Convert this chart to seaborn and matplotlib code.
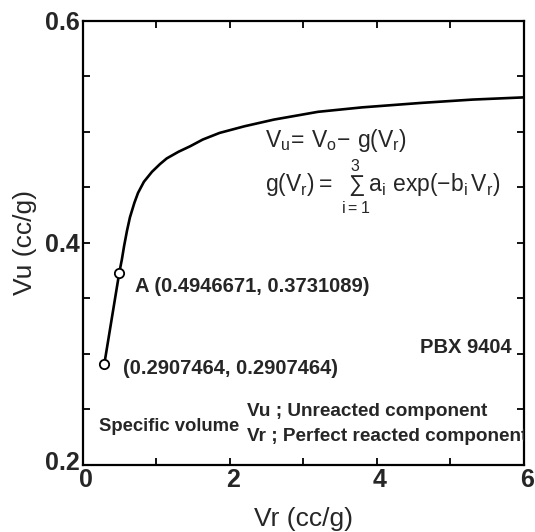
import matplotlib
matplotlib.use("Agg")
import matplotlib.pyplot as plt
import matplotlib.transforms as mtransforms
import seaborn as sns
import pandas as pd
from matplotlib.ticker import MultipleLocator

# Data
vr = [0.2907, 0.4947, 0.53, 0.56, 0.60, 0.64, 0.70, 0.75, 0.83, 0.94, 1.05, 1.14, 1.30,
      1.46, 1.63, 1.86, 2.2, 2.6, 3.2, 3.8, 4.6, 5.3, 6.0]
vu = [0.2907, 0.3731, 0.385, 0.397, 0.411, 0.423, 0.436, 0.445, 0.455, 0.464, 0.471, 0.476, 0.482,
      0.487, 0.493, 0.499, 0.505, 0.511, 0.518, 0.522, 0.526, 0.529, 0.531]
marker_vr = [0.2907, 0.4947]
marker_vu = [0.2907, 0.3731]
xticks = [0, 2, 4, 6]
yticks = [0.2, 0.4, 0.6]

sns.set_theme(style="white")
plt.rcParams["font.family"] = ["Liberation Sans", "DejaVu Sans"]
plt.rcParams["mathtext.fontset"] = "custom"
plt.rcParams["mathtext.rm"] = "Liberation Sans"
plt.rcParams["mathtext.it"] = "Liberation Sans"
plt.rcParams["mathtext.bf"] = "Liberation Sans:bold"

df = pd.DataFrame({"Vr": vr, "Vu": vu})
mk = pd.DataFrame({"Vr": marker_vr, "Vu": marker_vu})

fig = plt.figure(figsize=(5.35, 5.32), dpi=100)
ax = fig.add_axes([0.155, 0.126, 0.824, 0.835])

sns.lineplot(data=df, x="Vr", y="Vu", ax=ax, color="black", linewidth=1.9, sort=False)
sns.scatterplot(data=mk, x="Vr", y="Vu", ax=ax, s=45, facecolor="white",
                edgecolor="black", linewidth=1.3, zorder=5)

ax.set_xlim(0, 6)
ax.set_ylim(0.2, 0.6)
ax.set_xticks(xticks)
ax.set_xticklabels([str(t) for t in xticks])
ax.set_yticks(yticks)
ax.set_yticklabels([f"{t:.1f}" for t in yticks])
ax.xaxis.set_minor_locator(MultipleLocator(1))
ax.yaxis.set_minor_locator(MultipleLocator(0.05))
ax.tick_params(which="both", direction="in", top=True, right=True, bottom=True, left=True,
               length=5, width=1.3, color="black")
ax.tick_params(which="major", labelsize=18, pad=2)
for lab in ax.get_xticklabels() + ax.get_yticklabels():
    lab.set_fontweight("bold")
# nudge labels as in the reference
shift_x = mtransforms.ScaledTranslation(3 / 100, 0, fig.dpi_scale_trans)
for lab in ax.get_xticklabels():
    lab.set_transform(lab.get_transform() + shift_x)
shift_up = mtransforms.ScaledTranslation(0, 4 / 100, fig.dpi_scale_trans)
ylabs = ax.get_yticklabels()
ylabs[0].set_transform(ylabs[0].get_transform() + shift_up)
for s in ax.spines.values():
    s.set_linewidth(1.6)
    s.set_color("black")

ax.set_xlabel("Vr (cc/g)", fontsize=19, labelpad=11)
ax.set_ylabel("Vu (cc/g)", fontsize=19, labelpad=6)

ax.text(2.48, 0.492, r"$\mathregular{V_u\!=\,V_o\!-\,g(V_r)}$", fontsize=16.5, va="center")
ax.text(2.48, 0.450, r"$\mathregular{g(V_r)=\ \sum_{i=1}^{3} a_i\ exp(-b_i\,V_r)}$", fontsize=16.5, va="center")
ax.text(0.71, 0.361, "A (0.4946671, 0.3731089)", fontsize=14.5, fontweight="bold", va="center")
ax.text(0.55, 0.287, "(0.2907464, 0.2907464)", fontsize=14.5, fontweight="bold", va="center")
ax.text(5.83, 0.306, "PBX 9404", fontsize=14.5, fontweight="bold", va="center", ha="right")
ax.text(0.22, 0.235, "Specific volume", fontsize=13.3, fontweight="bold", va="center")
ax.text(2.23, 0.248, "Vu ; Unreacted component", fontsize=13.7, fontweight="bold", va="center")
ax.text(2.23, 0.226, "Vr ; Perfect reacted component", fontsize=13.7, fontweight="bold", va="center", clip_on=True)

fig.savefig("out.png", dpi=100)
